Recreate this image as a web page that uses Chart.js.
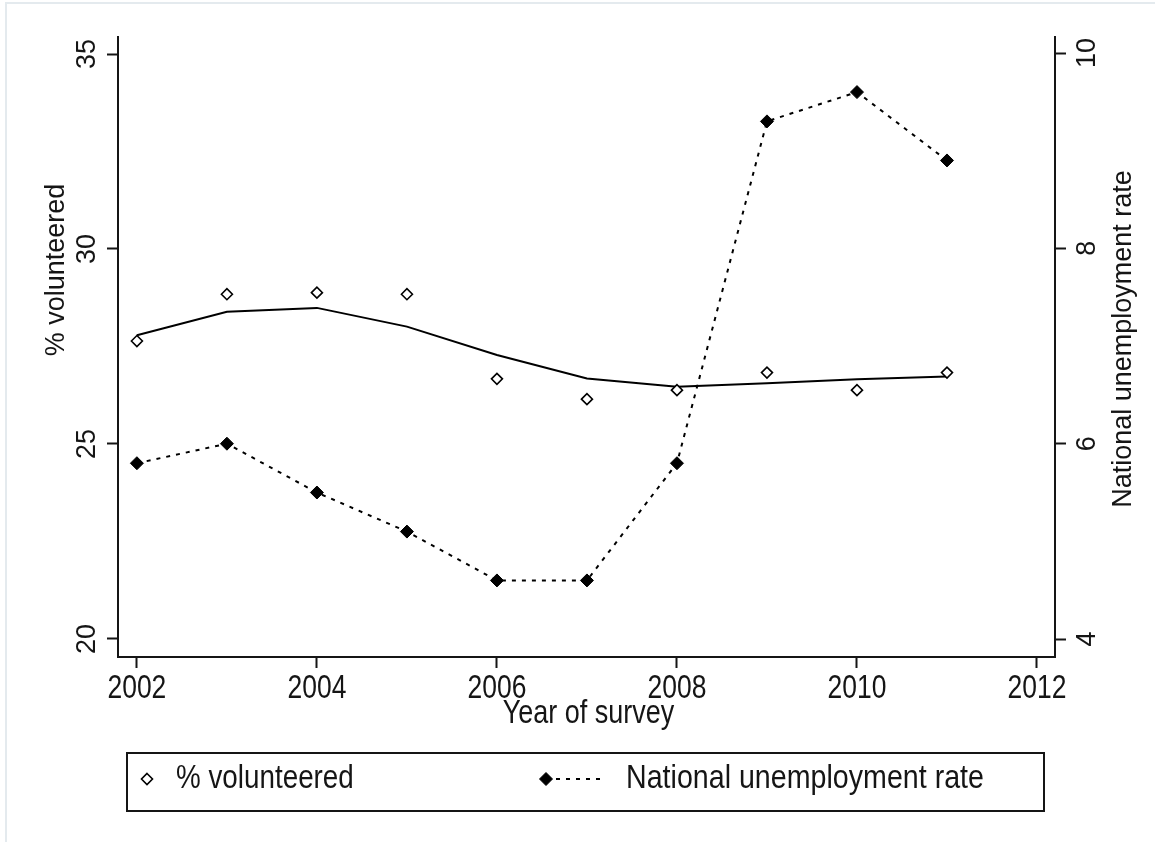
<!DOCTYPE html>
<html>
<head>
<meta charset="utf-8">
<script src="https://cdn.jsdelivr.net/npm/chart.js@4.4.1/dist/chart.umd.min.js"></script>
<style>
  html, body { margin: 0; padding: 0; background: #ffffff; }
  #wrap { width: 1155px; height: 842px; position: relative; }
  canvas { display: block; }
</style>
</head>
<body>
<div id="wrap"><canvas id="chart" width="1155" height="842"></canvas></div>
<script>
// Survey years and the two series
const years = [2002, 2003, 2004, 2005, 2006, 2007, 2008, 2009, 2010, 2011];
const volunteered = [27.64, 28.84, 28.88, 28.84, 26.67, 26.15, 26.38, 26.83, 26.38, 26.83];
const volunteeredSmooth = [27.79, 28.39, 28.49, 28.01, 27.28, 26.68, 26.47, 26.56, 26.66, 26.73];
const unemployment = [5.8, 6.0, 5.5, 5.1, 4.6, 4.6, 5.8, 9.3, 9.6, 8.9];

// Axis ticks
const yearTicks = [2002, 2004, 2006, 2008, 2010, 2012];
const volunteeredTicks = [20, 25, 30, 35];
const unemploymentTicks = [4, 6, 8, 10];

// Axis titles
const xTitle = 'Year of survey';
const yTitle = '% volunteered';
const y2Title = 'National unemployment rate';

const INK = '#151515';
const FONT = 'Liberation Sans, Arial, sans-serif';
const FS = 27;
const TALL = 1.2;   // horizontal text is set slightly tall and narrow

const toPoints = (vals) => years.map((yr, i) => ({ x: yr, y: vals[i] }));

// Text helper: draws text, optionally rotated and stretched
function drawText(ctx, text, x, y, opts) {
  const o = Object.assign({ rot: 0, align: 'center', size: FS, sx: 1, sy: 1 }, opts || {});
  ctx.save();
  ctx.translate(x, y);
  ctx.rotate(o.rot);
  ctx.scale(o.sx, o.sy);
  ctx.font = o.size + 'px ' + FONT;
  ctx.fillStyle = INK;
  ctx.textAlign = o.align;
  ctx.textBaseline = 'middle';
  ctx.fillText(text, 0, 0);
  ctx.restore();
}

function diamond(ctx, x, y, r, fill, stroke, lw) {
  ctx.save();
  ctx.beginPath();
  ctx.moveTo(x, y - r);
  ctx.lineTo(x + r, y);
  ctx.lineTo(x, y + r);
  ctx.lineTo(x - r, y);
  ctx.closePath();
  ctx.fillStyle = fill;
  ctx.fill();
  ctx.lineWidth = lw;
  ctx.strokeStyle = stroke;
  ctx.stroke();
  ctx.restore();
}

// Frame, year labels, axis titles and the boxed legend
const decorations = {
  id: 'decorations',
  beforeDraw(chart) {
    const ctx = chart.ctx;
    ctx.save();
    ctx.fillStyle = '#ffffff';
    ctx.fillRect(0, 0, chart.width, chart.height);
    ctx.strokeStyle = '#e4eaee';
    ctx.lineWidth = 2;
    ctx.beginPath();
    ctx.moveTo(6, 842);
    ctx.lineTo(6, 3);
    ctx.lineTo(1155, 3);
    ctx.stroke();
    ctx.restore();
  },
  afterDraw(chart) {
    const ctx = chart.ctx;
    const area = chart.chartArea;
    const xs = chart.scales.x;

    // year labels under the x ticks
    xs.ticks.forEach(t => {
      drawText(ctx, String(t.value), xs.getPixelForValue(t.value), 689, { sx: 0.98, sy: TALL });
    });

    // axis titles
    drawText(ctx, xTitle, (area.left + area.right) / 2 + 2, 714, { sy: TALL, sx: 1.0 });
    drawText(ctx, yTitle, 57, 270, { rot: -Math.PI / 2 });
    drawText(ctx, y2Title, 1124, 339, { rot: -Math.PI / 2 });

    // legend box
    ctx.save();
    ctx.strokeStyle = INK;
    ctx.lineWidth = 2;
    ctx.strokeRect(127, 753, 917, 58);
    ctx.restore();

    const ly = 779;
    const dsVol = chart.data.datasets[0];
    const dsUnemp = chart.data.datasets[2];
    diamond(ctx, 147, ly, dsVol.pointRadius, dsVol.pointBackgroundColor, dsVol.pointBorderColor, dsVol.pointBorderWidth);
    drawText(ctx, dsVol.label, 176, ly, { align: 'left', sy: TALL, sx: 1.03 });

    ctx.save();
    ctx.strokeStyle = dsUnemp.borderColor;
    ctx.lineWidth = dsUnemp.borderWidth;
    ctx.setLineDash(dsUnemp.borderDash);
    ctx.beginPath();
    ctx.moveTo(546, ly);
    ctx.lineTo(600, ly);
    ctx.stroke();
    ctx.restore();
    diamond(ctx, 546, ly, dsUnemp.pointRadius, dsUnemp.pointBackgroundColor, dsUnemp.pointBorderColor, 1);
    drawText(ctx, dsUnemp.label, 626, ly, { align: 'left', sy: TALL, sx: 1.06 });
  }
};

const axisCommon = {
  grid: { drawOnChartArea: false, drawTicks: true, tickLength: 11, tickWidth: 2, tickColor: INK },
  border: { display: true, width: 2, color: INK }
};

new Chart(document.getElementById('chart'), {
  type: 'line',
  data: {
    datasets: [
      {
        label: '% volunteered',
        data: toPoints(volunteered),
        yAxisID: 'y',
        showLine: false,
        pointStyle: 'rectRot',
        pointRadius: 5.5,
        pointBackgroundColor: '#ffffff',
        pointBorderColor: '#000000',
        pointBorderWidth: 1.6,
        order: 0
      },
      {
        label: 'lowess % volunteered',
        data: toPoints(volunteeredSmooth),
        yAxisID: 'y',
        borderColor: '#000000',
        borderWidth: 2,
        pointRadius: 0,
        tension: 0,
        order: 2
      },
      {
        label: 'National unemployment rate',
        data: toPoints(unemployment),
        yAxisID: 'y2',
        borderColor: '#000000',
        borderWidth: 2,
        borderDash: [4, 6],
        pointStyle: 'rectRot',
        pointRadius: 6.5,
        pointBackgroundColor: '#000000',
        pointBorderColor: '#000000',
        pointBorderWidth: 1,
        tension: 0,
        order: 1
      }
    ]
  },
  options: {
    responsive: false,
    animation: false,
    devicePixelRatio: 1,
    layout: { padding: { top: 37, left: 0, right: 0, bottom: 0 } },
    plugins: { legend: { display: false }, tooltip: { enabled: false } },
    scales: {
      x: Object.assign({}, axisCommon, {
        type: 'linear',
        position: 'bottom',
        min: 2001.79,
        max: 2012.2,
        afterBuildTicks: (s) => { s.ticks = yearTicks.map(v => ({ value: v })); },
        afterFit: (s) => { s.height = 185; },
        ticks: { display: false, autoSkip: false, maxRotation: 0, minRotation: 0 }
      }),
      y: Object.assign({}, axisCommon, {
        type: 'linear',
        position: 'left',
        min: 19.538,
        max: 35.436,
        afterBuildTicks: (s) => { s.ticks = volunteeredTicks.map(v => ({ value: v })); },
        afterFit: (s) => { s.width = 118; },
        ticks: {
          autoSkip: false, minRotation: 90, maxRotation: 90, crossAlign: 'center', padding: 4,
          color: INK, font: { family: FONT, size: FS },
          callback: (v) => String(v)
        }
      }),
      y2: Object.assign({}, axisCommon, {
        type: 'linear',
        position: 'right',
        min: 3.816,
        max: 10.164,
        afterBuildTicks: (s) => { s.ticks = unemploymentTicks.map(v => ({ value: v })); },
        afterFit: (s) => { s.width = 100; },
        ticks: {
          autoSkip: false, minRotation: 90, maxRotation: 90, crossAlign: 'center', padding: 7,
          color: INK, font: { family: FONT, size: FS },
          callback: (v) => String(v)
        }
      })
    }
  },
  plugins: [decorations]
});
</script>
</body>
</html>
